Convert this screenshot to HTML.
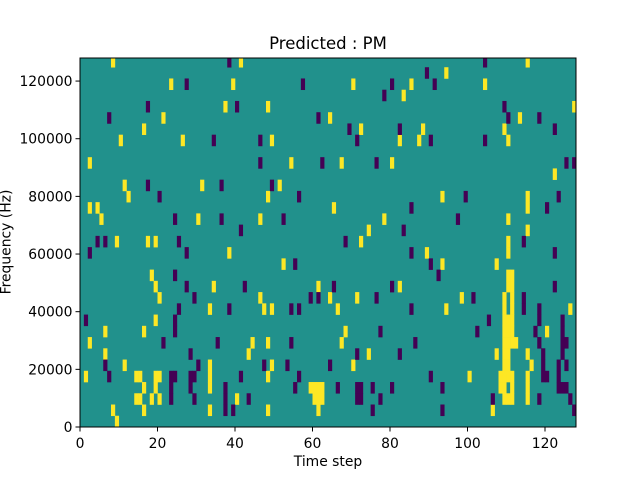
<!DOCTYPE html>
<html><head><meta charset="utf-8"><style>
body{margin:0;background:#fff;}
svg{display:block;font-family:"DejaVu Sans","Liberation Sans",sans-serif;}
</style></head><body>
<svg id="chart" width="640" height="480">
<rect width="640" height="480" fill="#fff"/>
<text x="328" y="49" font-size="16.5" text-anchor="middle">Predicted : PM</text>
<text x="328" y="466" font-size="13.9" text-anchor="middle">Time step</text>
<text transform="translate(10.5,242) rotate(-90)" font-size="13.9" text-anchor="middle">Frequency (Hz)</text>
<g id="cells"></g>
<g id="axes"></g>
</svg>
<script>
const nSteps = 128;
const nBins = 33;
const binHz = 3900;
const yMax = 128000;
const xTicks = [0,20,40,60,80,100,120];
const yTicks = [0,20000,40000,60000,80000,100000,120000];
const yellowByBin = [
[9],[8,16,33,48,61,106],[14,15,18,20,40,60,61,62,109,110,111,115],[16,19,33,59,60,61,62,108,109,111,115],
[1,14,15,19,20,33,48,100,108,109,110,111,115],[11,33,49,70,109,110,116],[6,43,74,107,109,110,115],[2,44,48,67,109,110,111,112],
[6,16,68,109,110,111,120],[19,109,110,111],[33,47,49,66,94,109,111,126],[20,46,64,71,98,109,111],
[19,34,61,82,110,111],[18,110,111],[52,93,107],[38,89,110],[9,17,19,72,110],[74,115],[5,30,46,78,110],
[2,4,65,115],[12,48,93,115],[11,31,51],[122],[2,54,67,80],[],[10,26,49,82,87,110],[16,72,88,109],
[21,64,113],[37,48,127],[83],[23,39,70,85,104],[94],[8,41,115]];
const purpleByBin = [
[],[37,39,75,93,127],[23,29,37,43,71,72,77,106,118,126],[23,28,37,55,66,71,72,75,80,93,123,124,125],
[7,23,24,28,29,41,56,90,119,120,123],[6,30,47,53,64,119,123,125],[28,71,82,119,124],[21,35,54,86,118,124,125],
[24,77,102,117,124],[1,24,105,118,124],[25,38,54,56,85,114,118],[29,59,61,76,101,114],
[27,42,65,80,122],[24,92],[55,90],[2,27,85,122],[4,6,25,68,114],[41,83],[24,36,52,97],
[85,120],[20,56,99,123],[17,36,49],[],[46,62,76,125,127],[],[34,46,71,90,104],[69,82,122],
[7,61,110,118],[17,40,109],[78],[27,57,80,91],[89],[38,104]];

const L=80,R=576,T=58,B=427;
const NS="http://www.w3.org/2000/svg";
function xs(t){return L+(t/nSteps)*(R-L);}
function ys(f){return B-(Math.min(f,yMax)/yMax)*(B-T);}
const cells=document.getElementById('cells');
const axes=document.getElementById('axes');
function mk(tag,attrs,parent){const e=document.createElementNS(NS,tag);for(const k in attrs)e.setAttribute(k,attrs[k]);parent.appendChild(e);return e;}
const bg=mk('rect',{x:L,y:T,width:R-L,height:B-T,fill:'#21918c'},cells);


function drawCell(c,b,color,name){
  const y0=ys((b+1)*binHz), y1=ys(b*binHz);
  const r=mk('rect',{x:xs(c),y:y0,width:xs(c+1)-xs(c)+0.3,height:y1-y0+0.3,fill:color},cells);
  
  
}
yellowByBin.forEach((cols,b)=>cols.forEach(c=>drawCell(c,b,'#fde725','cell-yellow')));
purpleByBin.forEach((cols,b)=>cols.forEach(c=>drawCell(c,b,'#440154','cell-purple')));
const frame=mk('rect',{x:L,y:T,width:R-L,height:B-T,fill:'none',stroke:'#000','stroke-width':1},axes);


xTicks.forEach(v=>{
  const x=xs(v);
  const tk=mk('line',{x1:x,x2:x,y1:B,y2:B+4.5,stroke:'#000'},axes);
  
  
  const t=mk('text',{x:x,y:B+21,'font-size':13.9,'text-anchor':'middle'},axes);
  t.textContent=v;
  
  
});
yTicks.forEach(v=>{
  const y=ys(v);
  const tk=mk('line',{x1:L-4.5,x2:L,y1:y,y2:y,stroke:'#000'},axes);
  
  
  const t=mk('text',{x:L-7.5,y:y+5,'font-size':13.9,'text-anchor':'end'},axes);
  t.textContent=v;
  
  
});
</script>
</body></html>
